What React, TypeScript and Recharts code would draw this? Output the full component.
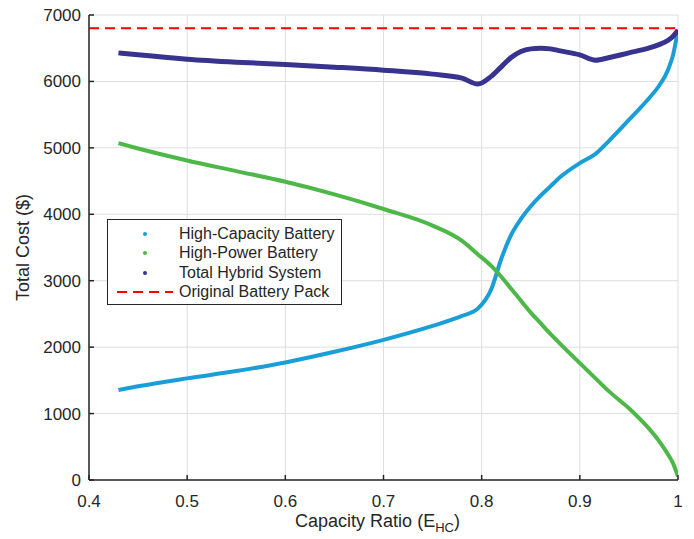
import React from 'react';
import {
  LineChart,
  Line,
  XAxis,
  YAxis,
  CartesianGrid,
  ReferenceLine,
  Label,
} from 'recharts';

// capacity ratio samples (E_HC)
const ratio = [
  0.43, 0.45, 0.5, 0.55, 0.6, 0.65, 0.7, 0.75, 0.78, 0.796, 0.81, 0.82, 0.83, 0.84, 0.85,
  0.86, 0.87, 0.88, 0.9, 0.916, 0.93, 0.95, 0.97, 0.98, 0.99, 0.995, 1.0,
];
const highCapacity = [
  1355, 1410, 1530, 1640, 1770, 1930, 2110, 2320, 2470, 2580, 2880, 3330, 3690, 3930, 4120,
  4280, 4420, 4560, 4770, 4910, 5110, 5420, 5740, 5920, 6180, 6400, 6780,
];
const highPower = [
  5070, 4990, 4810, 4650, 4490, 4300, 4080, 3830, 3600, 3400, 3220, 3060, 2880, 2700, 2520,
  2360, 2200, 2050, 1760, 1530, 1330, 1080, 780, 600, 380, 250, 50,
];
const totalHybrid = [
  6430, 6400, 6335, 6290, 6255, 6215, 6170, 6110, 6050, 5960, 6080, 6220, 6360, 6450, 6490,
  6500, 6490, 6460, 6400, 6320, 6360, 6430, 6500, 6550, 6620, 6680, 6770,
];
const originalPack = 6800;

const xTicks = [0.4, 0.5, 0.6, 0.7, 0.8, 0.9, 1];
const yTicks = [0, 1000, 2000, 3000, 4000, 5000, 6000, 7000];

const toSeries = (vals: number[]) => ratio.map((x, i) => ({ x, y: vals[i] }));

const BLUE = '#1a9ed8';
const GREEN = '#4db848';
const PURPLE = '#38338f';
const RED = '#ff0000';
const AXIS = '#262626';
const FONT = '"Liberation Sans", Arial, sans-serif';

const legendItems = [
  { name: 'High-Capacity Battery', color: BLUE, dash: false },
  { name: 'High-Power Battery', color: GREEN, dash: false },
  { name: 'Total Hybrid System', color: PURPLE, dash: false },
  { name: 'Original Battery Pack', color: RED, dash: true },
];

const LegendBox = () => (
  <div
    style={{
      position: 'absolute',
      left: 107,
      top: 219,
      width: 235,
      height: 86,
      border: `1.5px solid ${AXIS}`,
      background: '#fff',
      fontFamily: FONT,
      fontSize: 16,
      color: AXIS,
      paddingTop: 4,
      boxSizing: 'border-box',
    }}
  >
    {legendItems.map((it) => (
      <div key={it.name} style={{ display: 'flex', alignItems: 'center', height: 19.5 }}>
        <svg width={71} height={10}>
          {it.dash ? (
            <line x1={9} x2={65} y1={5} y2={5} stroke={it.color} strokeWidth={2} strokeDasharray="10 6" />
          ) : (
            <circle cx={37} cy={5} r={2} fill={it.color} />
          )}
        </svg>
        <span>{it.name}</span>
      </div>
    ))}
  </div>
);

const XLabel = (props: any) => {
  const { viewBox } = props;
  const cx = viewBox.x + viewBox.width / 2 - 6;
  return (
    <text x={cx} y={viewBox.y + 47} textAnchor="middle" fontFamily={FONT} fontSize={18} fill={AXIS}>
      Capacity Ratio (E
      <tspan fontSize={13} dy={5}>HC</tspan>
      <tspan dy={-5}>)</tspan>
    </text>
  );
};

export default function App() {
  return (
    <div style={{ position: 'absolute', left: 0, top: 0, width: 694, height: 539, background: '#fff' }}>
      <LineChart width={694} height={539} margin={{ top: 15, right: 16, left: 0, bottom: 0 }}>
        <CartesianGrid stroke="#dedede" strokeWidth={1} />
        <XAxis
          type="number"
          dataKey="x"
          domain={[0.4, 1]}
          ticks={xTicks}
          allowDataOverflow
          height={59}
          stroke={AXIS}
          strokeWidth={1.5}
          tickSize={-5}
          tickMargin={20}
          tick={{ fill: AXIS, fontSize: 17, fontFamily: FONT }}
        >
          <Label content={<XLabel />} />
        </XAxis>
        <YAxis
          type="number"
          dataKey="y"
          domain={[0, 7000]}
          ticks={yTicks}
          width={89}
          stroke={AXIS}
          strokeWidth={1.5}
          tickSize={-5}
          tickMargin={13}
          tick={{ fill: AXIS, fontSize: 17, fontFamily: FONT }}
        >
          <Label
            value="Total Cost ($)"
            angle={-90}
            position="insideLeft"
            offset={23}
            style={{ textAnchor: 'middle', fill: AXIS, fontSize: 18, fontFamily: FONT }}
          />
        </YAxis>
        <ReferenceLine y={originalPack} stroke={RED} strokeWidth={2} strokeDasharray="10 6" />
        <Line
          data={toSeries(highCapacity)}
          dataKey="y"
          type="monotone"
          stroke={BLUE}
          strokeWidth={4}
          dot={false}
          isAnimationActive={false}
        />
        <Line
          data={toSeries(highPower)}
          dataKey="y"
          type="monotone"
          stroke={GREEN}
          strokeWidth={4}
          dot={false}
          isAnimationActive={false}
        />
        <Line
          data={toSeries(totalHybrid)}
          dataKey="y"
          type="monotone"
          stroke={PURPLE}
          strokeWidth={5}
          dot={false}
          isAnimationActive={false}
        />
      </LineChart>
      <LegendBox />
    </div>
  );
}
